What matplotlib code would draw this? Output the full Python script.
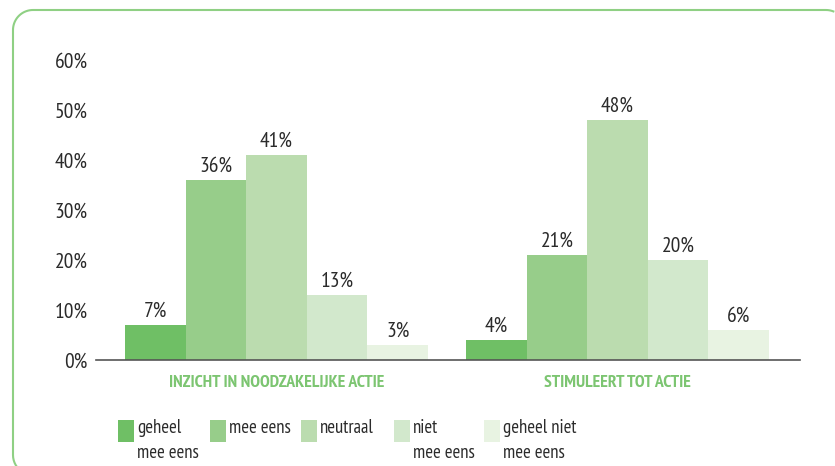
import matplotlib
matplotlib.use("Agg")
import numpy as np
import matplotlib.pyplot as plt
from matplotlib.patches import Rectangle
from matplotlib.lines import Line2D

# data
groups = ["INZICHT IN NOODZAKELIJKE ACTIE", "STIMULEERT TOT ACTIE"]
answers = ["geheel\nmee eens", "mee eens", "neutraal", "niet\nmee eens", "geheel niet\nmee eens"]
values = [
    [7, 36, 41, 13, 3],   # inzicht in noodzakelijke actie
    [4, 21, 48, 20, 6],   # stimuleert tot actie
]
yticks = [0, 10, 20, 30, 40, 50, 60]

colors = ["#6fbf65", "#97cd8a", "#bbdcaf", "#d2e8cc", "#e8f3e2"]
text_col = "#2b2b2b"
green_txt = "#7cc571"

plt.rcParams["font.family"] = ["PT Sans Narrow", "DejaVu Sans"]

W, H = 835, 466
fig = plt.figure(figsize=(W / 100, H / 100), dpi=100)
ax = fig.add_axes([96 / W, 1 - 360 / H, (800 - 96) / W, 300 / H])

w = 0.1777
x = np.arange(len(groups))
vals = np.array(values)
for i, ans in enumerate(answers):
    xs = x + (i - 2) * w
    ax.bar(xs, vals[:, i], width=w, color=colors[i], linewidth=0)
    for xi, v in zip(xs, vals[:, i]):
        ax.annotate(f"{v}%", (xi, v), xytext=(0, 3), textcoords="offset points",
                    ha="center", va="bottom", fontsize=15.5, color=text_col)

ax.set_xlim(-0.529, 1.535)
ax.set_ylim(0, 60)
ax.set_yticks(yticks)
ax.set_yticklabels([f"{t}%" for t in yticks], fontsize=15.5, color=text_col)
ax.tick_params(axis="y", length=0, pad=6)
ax.set_xticks(x)
ax.set_xticklabels(groups, fontsize=12.8, fontweight="bold", color=green_txt)
ax.tick_params(axis="x", length=0, pad=11)
for s in ["top", "right", "left"]:
    ax.spines[s].set_visible(False)
ax.spines["bottom"].set_color("#555555")
ax.spines["bottom"].set_linewidth(1.2)

# legend drawn by hand
leg_x = [118, 210, 301, 394, 484]
for i, ans in enumerate(answers):
    fig.add_artist(Rectangle((leg_x[i] / W, 1 - 442 / H), 16 / W, 22 / H,
                             transform=fig.transFigure, color=colors[i], linewidth=0))
    fig.text((leg_x[i] + 19) / W, 1 - 419 / H, ans, ha="left", va="top",
             fontsize=13.5, color=text_col, linespacing=1.5)

# frame: left side, top side and the corners that show (pixel coords)
r = 20
t0 = np.linspace(0.62 * np.pi, np.pi, 10)       # bottom-left corner
t1 = np.linspace(np.pi, 1.5 * np.pi, 20)        # top-left corner
t2 = np.linspace(1.5 * np.pi, 1.62 * np.pi, 5)  # start of top-right corner
px = np.concatenate([33 + r * np.cos(t0), 33 + r * np.cos(t1), 826 + r * np.cos(t2)])
py = np.concatenate([455 + r * np.sin(t0), 30 + r * np.sin(t1), 30 + r * np.sin(t2)])
fig.add_artist(Line2D(px / W, 1 - py / H, transform=fig.transFigure,
                      color="#8fd084", linewidth=1.5, solid_joinstyle="round"))

fig.savefig("out.png", dpi=100)
